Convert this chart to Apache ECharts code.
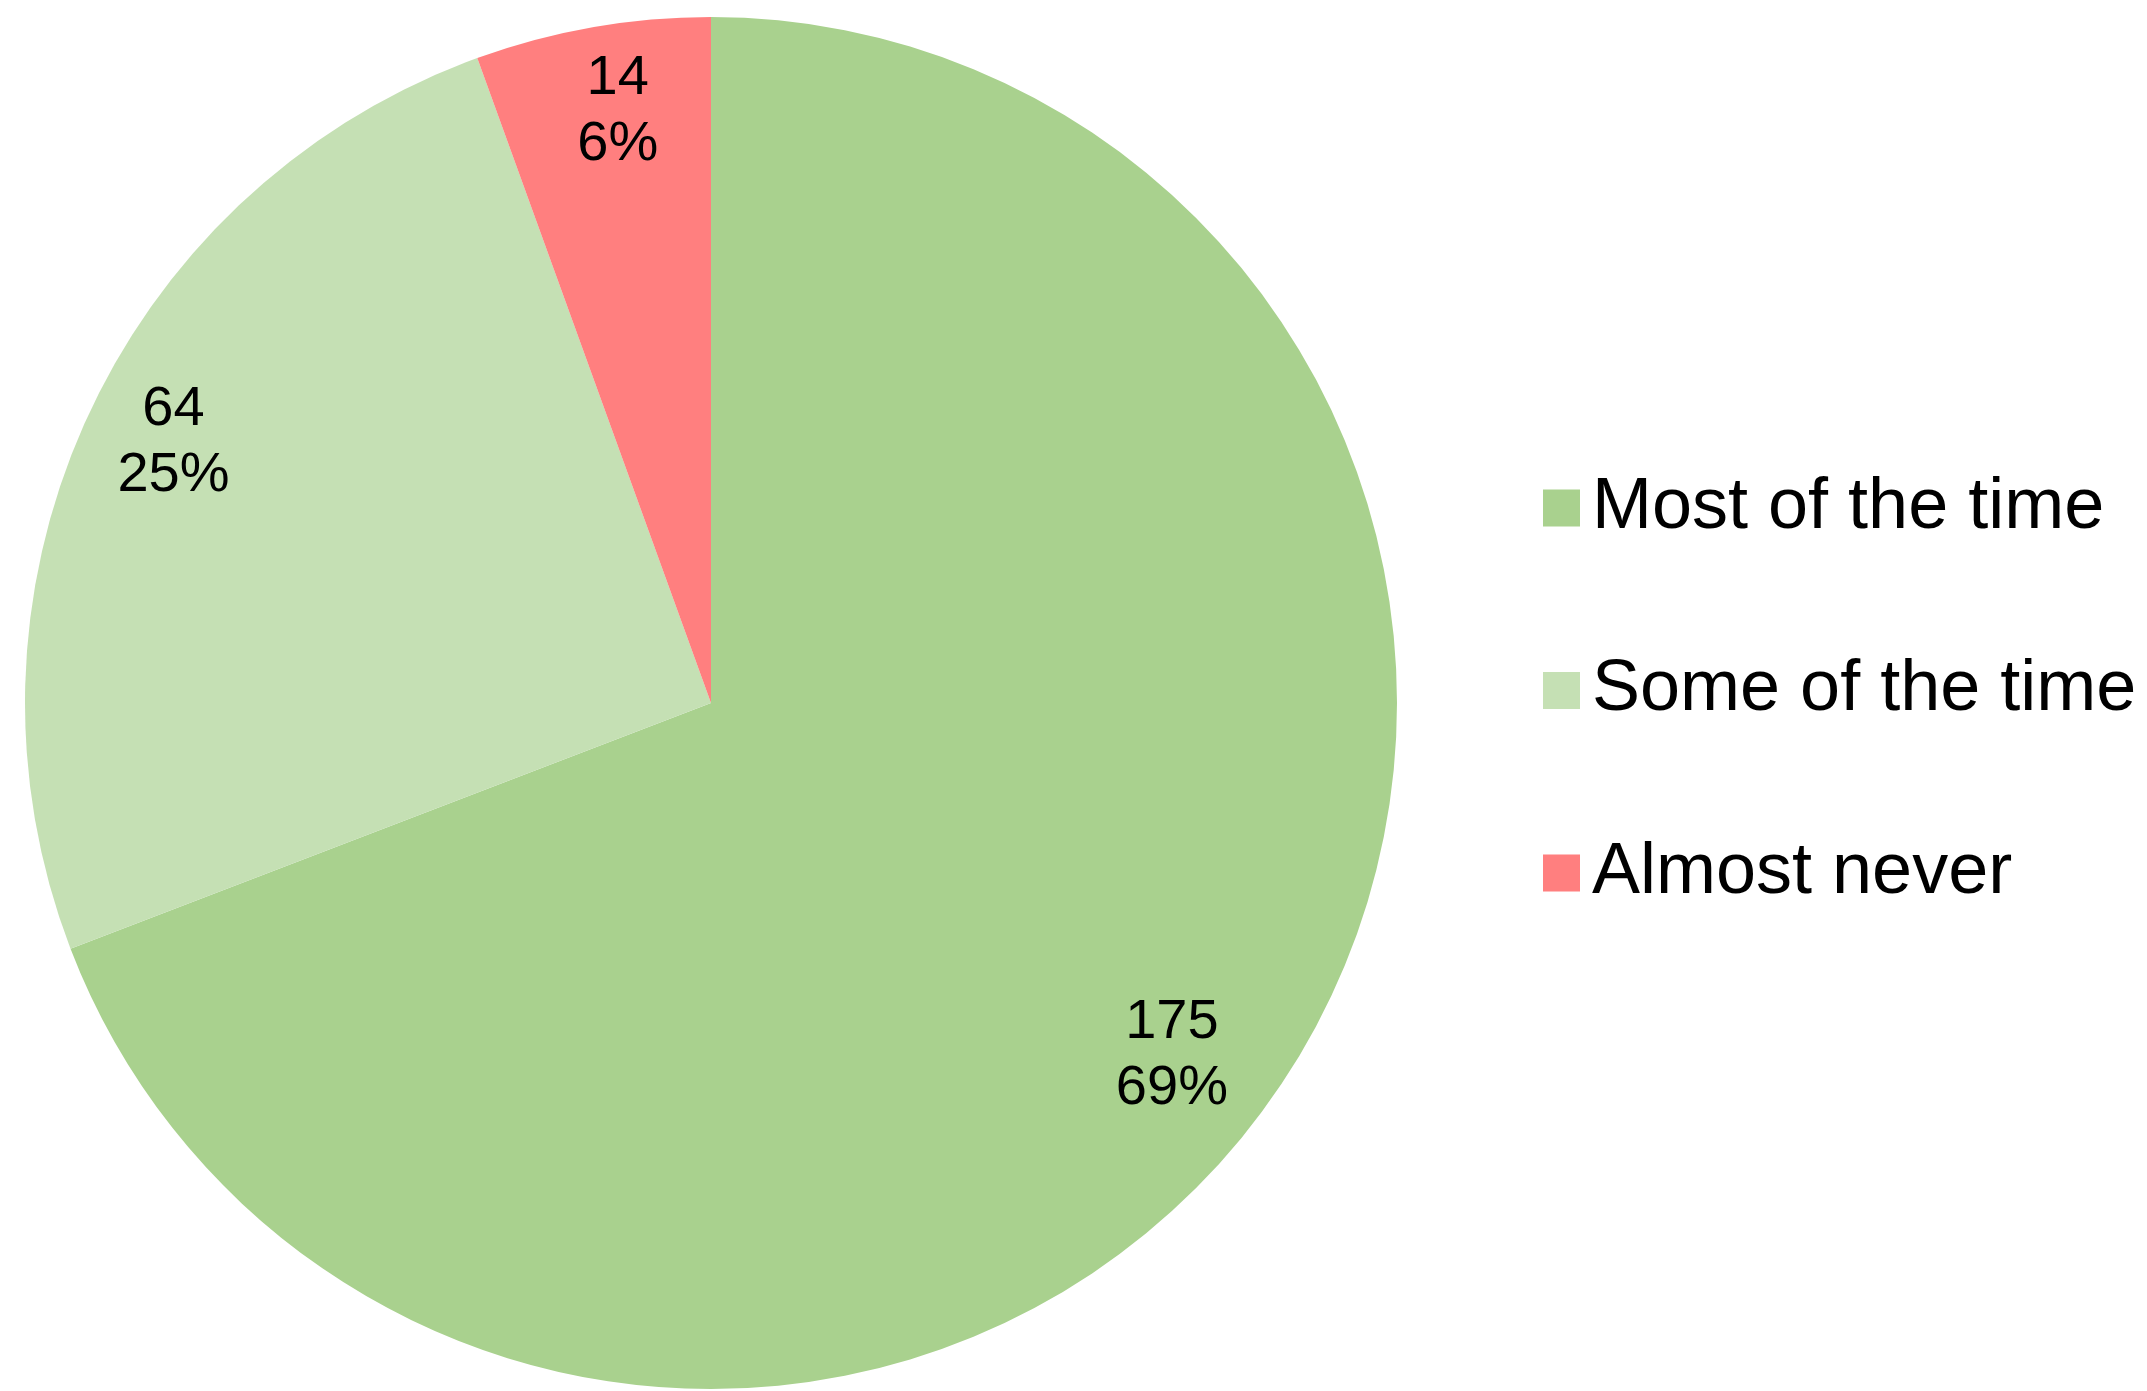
<!DOCTYPE html>
<html>
<head>
<meta charset="utf-8">
<script src="https://cdn.jsdelivr.net/npm/echarts@6/dist/echarts.min.js"></script>
<style>
html,body{margin:0;padding:0;background:#fff;}
#chart{width:2147px;height:1391px;}
</style>
</head>
<body>
<div id="chart"></div>
<script>
const categories = ['Most of the time', 'Some of the time', 'Almost never'];
const counts = [175, 64, 14];
const colors = ['#A9D18E', '#C5E0B4', '#FF7F7F'];

const FONT = '"Liberation Sans", Arial, Helvetica, sans-serif';
const chart = echarts.init(document.getElementById('chart'), null, {renderer: 'canvas'});

// small label nudges (style only, not data)
const labelNudge = [[-36, 11], [11, -10], [11, 2]];

const mainData = categories.map((n, i) => ({name: n, value: counts[i], itemStyle: {color: colors[i]}}));
const labelData = categories.map((n, i) => ({name: n, value: counts[i], label: {offset: labelNudge[i]}}));

chart.setOption({
  animation: false,
  backgroundColor: '#ffffff',
  legend: {
    orient: 'vertical',
    left: 1538,
    top: 463,
    itemWidth: 37,
    itemHeight: 37,
    itemGap: 102.5,
    icon: 'rect',
    selectedMode: false,
    data: categories.map((n, i) => ({name: n, itemStyle: {color: colors[i]}})),
    textStyle: {
      fontFamily: FONT,
      fontSize: 72,
      lineHeight: 80,
      color: '#000',
      padding: [0, 0, 0, 7]
    }
  },
  series: [
    {
      type: 'pie',
      center: [711, 703],
      radius: [0, 686],
      startAngle: 90,
      clockwise: true,
      silent: true,
      label: {show: false},
      labelLine: {show: false},
      itemStyle: {borderWidth: 0},
      data: mainData
    },
    {
      type: 'pie',
      center: [711, 703],
      radius: [514, 686],
      startAngle: 90,
      clockwise: true,
      silent: true,
      percentPrecision: 0,
      itemStyle: {color: 'rgba(0,0,0,0)', borderWidth: 0},
      label: {
        show: true,
        position: 'inside',
        formatter: '{c}\n{d}%',
        fontFamily: FONT,
        fontSize: 56,
        lineHeight: 66,
        color: '#000'
      },
      labelLine: {show: false},
      data: labelData
    }
  ]
});
</script>
</body>
</html>
